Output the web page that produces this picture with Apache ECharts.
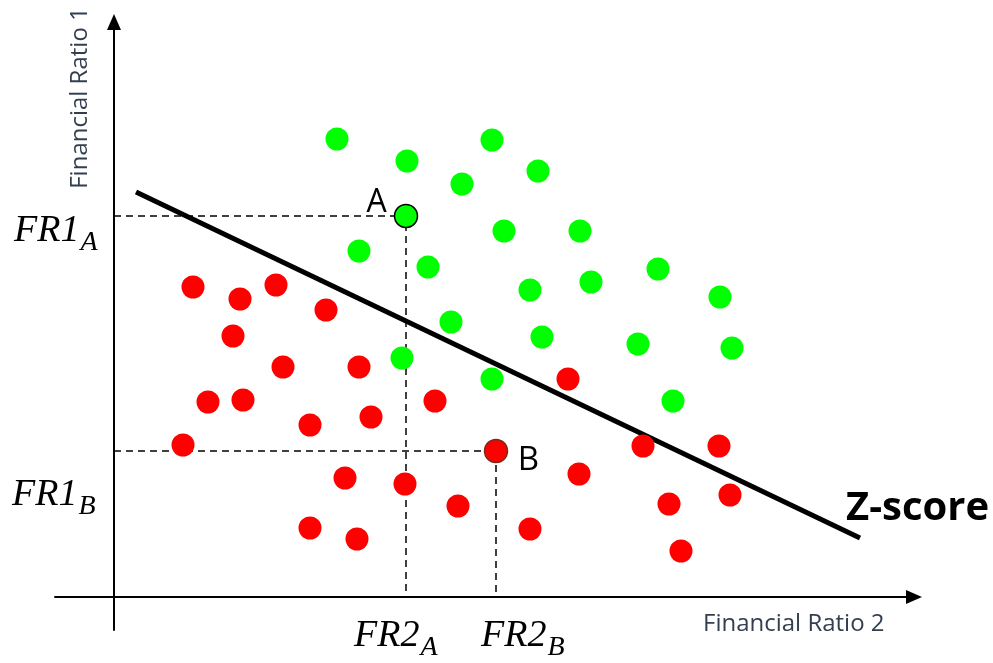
<!DOCTYPE html>
<html><head><meta charset="utf-8">
<script src="https://cdn.jsdelivr.net/npm/echarts@6/dist/echarts.min.js"></script>
<style>html,body{margin:0;padding:0;background:#fff}#c{width:993px;height:663px}</style>
</head><body><div id="c"></div>
<script>
// Solvent firms (green)
const greenX = [223, 293, 378, 348, 424, 245, 314, 390, 466, 544, 477, 416, 606, 337, 428, 524, 618, 288, 378, 559];
const greenY = [458, 436, 457, 413, 426, 346, 330, 366, 366, 328, 315, 307, 300, 275, 260, 253, 249, 239, 218, 196];
// Distressed firms (red)
const redX = [79, 126, 162, 212, 119, 169, 245, 94, 129, 196, 257, 321, 454, 69, 231, 291, 344, 196, 243, 416, 465, 529, 605, 555, 616, 567];
const redY = [310, 298, 312, 287, 261, 230, 230, 195, 197, 172, 180, 196, 218, 152, 119, 113, 91, 69, 58, 68, 123, 151, 151, 93, 102, 46];
// Highlighted firms
const pointA = [292, 381];
const pointB = [382, 146];
// Z-score discriminant line
const zScoreLine = [[22, 405], [746, 59]];
// Labels
const pointNames = ['A', 'B'];
const yTickMain = ['FR1', 'FR1'];
const yTickSub = ['A', 'B'];
const xTickMain = ['FR2', 'FR2'];
const xTickSub = ['A', 'B'];
const xAxisName = 'Financial Ratio 2';
const yAxisName = 'Financial Ratio 1';
const lineName = 'Z-score';

const chart = echarts.init(document.getElementById('c'));
const axisCommon = {
  type: 'value',
  axisLine: { show: true, onZero: true, symbol: ['none', 'triangle'], symbolSize: [14, 16],
    lineStyle: { color: '#000', width: 2 } },
  axisTick: { show: false }, axisLabel: { show: false }, splitLine: { show: false }
};
const dash = { color: '#000', width: 1.5, type: [7, 5] };

const mathFont = '"Liberation Serif"';
const mainSize = 38, subSize = 28;
const mid = 0.3375;
const cvs = document.createElement('canvas').getContext('2d');
function w(txt, size) { cvs.font = 'italic ' + size + 'px ' + mathFont; return cvs.measureText(txt).width; }
function mathLabel(main, sub, left, baseline) {
  const mw = w(main, mainSize);
  return [
    { type: 'text', x: left, y: baseline - mid * mainSize, style: { text: main, fill: '#000',
      font: 'italic ' + mainSize + 'px ' + mathFont, align: 'left', verticalAlign: 'middle', textAlign: 'left', textVerticalAlign: 'middle' } },
    { type: 'text', x: left + mw + 1, y: baseline + 8 - mid * subSize, style: { text: sub, fill: '#000',
      font: 'italic ' + subSize + 'px ' + mathFont, align: 'left', verticalAlign: 'middle', textAlign: 'left', textVerticalAlign: 'middle' } }
  ];
}

const option = {
  animation: false,
  backgroundColor: '#fff',
  grid: { left: 55, right: 79, top: 22, bottom: 33 },
  xAxis: Object.assign({}, axisCommon, { min: -59, max: 800 }),
  yAxis: Object.assign({}, axisCommon, { min: -33, max: 575 }),
  series: [
    { type: 'line', data: [[0, pointA[1]], pointA, [pointA[0], 0]], symbol: 'none', lineStyle: dash, z: 1 },
    { type: 'line', data: [[0, pointB[1]], pointB, [pointB[0], 0]], symbol: 'none', lineStyle: dash, z: 1 },
    { type: 'line', data: zScoreLine, symbol: 'none', lineStyle: { color: '#000', width: 5, cap: 'butt' }, z: 2 },
    { type: 'scatter', data: greenX.map((x, i) => [x, greenY[i]]), symbolSize: 23,
      itemStyle: { color: '#00ff00', opacity: 1 }, z: 3 },
    { type: 'scatter', data: redX.map((x, i) => [x, redY[i]]), symbolSize: 23,
      itemStyle: { color: '#ff0000', opacity: 1 }, z: 3 },
    { type: 'scatter', data: [pointA], symbolSize: 23, z: 4,
      itemStyle: { color: '#00ff00', borderColor: '#000', borderWidth: 1.5, opacity: 1 },
      label: { show: true, formatter: pointNames[0], position: [-7, -1], align: 'right', verticalAlign: 'middle',
        fontFamily: 'Open Sans', fontSize: 32, color: '#000' } },
    { type: 'scatter', data: [pointB], symbolSize: 23, z: 4,
      itemStyle: { color: '#ff0000', borderColor: '#7a2a1a', borderWidth: 1.5, opacity: 1 },
      label: { show: true, formatter: pointNames[1], position: [34, 22], align: 'left', verticalAlign: 'middle',
        fontFamily: 'Open Sans', fontSize: 33, color: '#000' } }
  ]
};
chart.setOption(option);

const g = [];
g.push(...mathLabel(yTickMain[0], yTickSub[0], 14, 244));
g.push(...mathLabel(yTickMain[1], yTickSub[1], 12, 508));
g.push(...mathLabel(xTickMain[0], xTickSub[0], 354, 649));
g.push(...mathLabel(xTickMain[1], xTickSub[1], 481, 649));
g.push({ type: 'text', x: 703, y: 624, style: { text: xAxisName, fill: '#333f50', font: '24px "Open Sans"',
  align: 'left', verticalAlign: 'middle', textAlign: 'left', textVerticalAlign: 'middle' } });
g.push({ type: 'text', x: 80, y: 98, rotation: Math.PI / 2, style: { text: yAxisName, fill: '#333f50', font: '24px "Open Sans"',
  align: 'center', verticalAlign: 'middle', textAlign: 'center', textVerticalAlign: 'middle' } });
g.push({ type: 'text', x: 846, y: 509, style: { text: lineName, fill: '#000', font: 'bold 40px "Open Sans"',
  align: 'left', verticalAlign: 'middle', textAlign: 'left', textVerticalAlign: 'middle' } });
chart.setOption({ graphic: { elements: g } });
</script></body></html>
